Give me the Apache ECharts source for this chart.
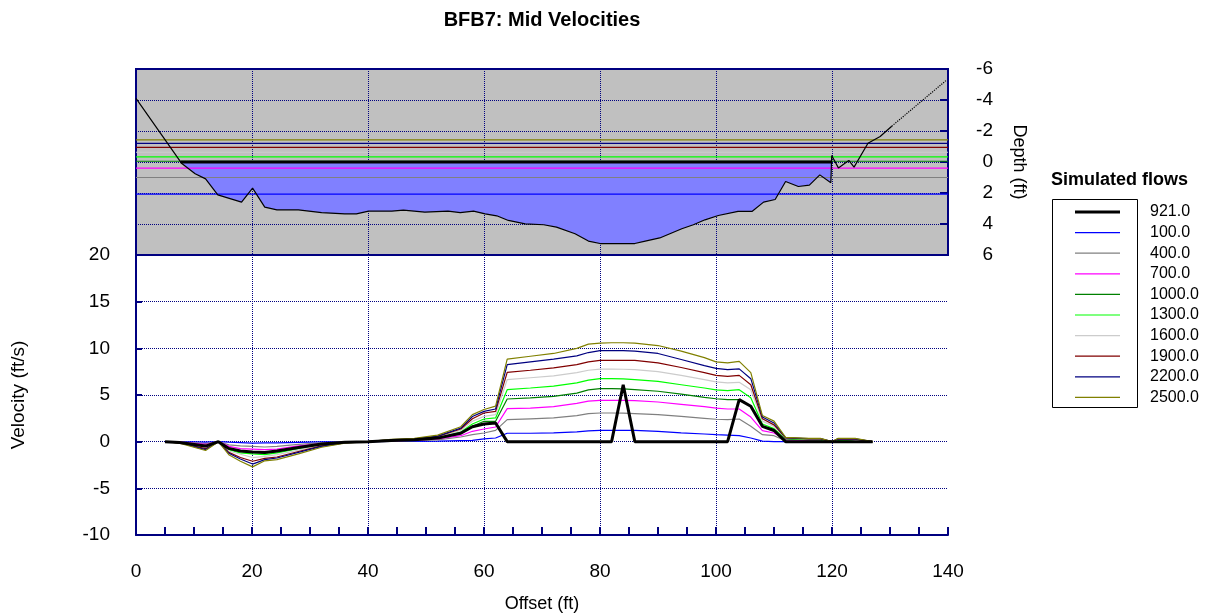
<!DOCTYPE html>
<html>
<head>
<meta charset="utf-8">
<title>BFB7: Mid Velocities</title>
<script src="https://cdn.jsdelivr.net/npm/echarts@6/dist/echarts.min.js"></script>
<style>
  html, body { margin: 0; padding: 0; background: #fff; }
  #chart { width: 1213px; height: 616px; }
</style>
</head>
<body>
<div id="chart"></div>
<script>
// offsets (ft) of the velocity verticals
var stations = [5, 7.5, 12, 14.2, 16, 18, 20.1, 22.2, 24.3, 28,
                32, 36, 40, 44, 48, 52, 56, 58, 60, 62,
                64, 68, 72, 76, 78, 80, 82, 84, 86, 90,
                94, 98, 100, 102, 104, 106, 108, 110, 112, 116,
                118, 120, 121, 124, 127];

// mid velocities (ft/s) per simulated flow
var v921  = [0, -0.1, -0.47, 0, -0.72, -1.0, -1.1, -1.15, -1.0, -0.62,
             -0.26, -0.05, 0, 0.12, 0.2, 0.38, 0.9, 1.6, 1.9, 2.0,
             0, 0, 0, 0, 0, 0, 0, 6.1, 0, 0,
             0, 0, 0, 0, 4.5, 3.8, 1.64, 1.2, 0, 0,
             0, 0, 0, 0, 0];
var v100  = [0, 0, -0.05, 0, -0.05, -0.1, -0.15, -0.14, -0.14, -0.07,
             -0.03, 0, 0, 0.02, 0.03, 0.05, 0.12, 0.14, 0.29, 0.39,
             0.9, 0.9, 0.95, 1.05, 1.15, 1.2, 1.22, 1.22, 1.21, 1.1,
             0.95, 0.82, 0.75, 0.71, 0.64, 0.39, 0.05, 0, 0, 0,
             0, 0, 0, 0, 0];
var v400  = [0, -0.03, -0.2, 0, -0.35, -0.45, -0.5, -0.57, -0.5, -0.3,
             -0.12, -0.03, 0, 0.05, 0.1, 0.2, 0.5, 0.75, 0.93, 1.21,
             2.36, 2.45, 2.55, 2.8, 3.0, 3.07, 3.07, 3.05, 3.0, 2.9,
             2.7, 2.5, 2.4, 2.36, 2.43, 1.64, 0.75, 0.64, 0.1, 0.05,
             0.05, 0, 0.05, 0, 0];
var v700  = [0, -0.05, -0.3, 0, -0.5, -0.75, -0.8, -0.86, -0.79, -0.45,
             -0.2, -0.04, 0, 0.08, 0.15, 0.3, 0.64, 1.11, 1.36, 1.57,
             3.54, 3.6, 3.75, 4.1, 4.35, 4.43, 4.43, 4.42, 4.39, 4.25,
             4.0, 3.75, 3.6, 3.5, 3.5, 2.64, 1.18, 0.93, 0.2, 0.12,
             0.1, 0, 0.1, 0, 0];
var v1000 = [0, -0.08, -0.5, 0, -0.75, -1.05, -1.1, -1.2, -1.07, -0.65,
             -0.28, -0.06, 0, 0.12, 0.2, 0.4, 0.93, 1.64, 2.18, 2.18,
             4.57, 4.7, 4.85, 5.2, 5.55, 5.68, 5.68, 5.65, 5.57, 5.4,
             5.1, 4.75, 4.6, 4.5, 4.5, 3.8, 1.64, 1.29, 0.3, 0.2,
             0.18, 0, 0.15, 0, 0];
var v1300 = [0, -0.1, -0.55, 0, -0.85, -1.2, -1.3, -1.39, -1.21, -0.75,
             -0.32, -0.08, 0, 0.15, 0.22, 0.45, 1.04, 1.89, 2.43, 2.54,
             5.57, 5.75, 5.95, 6.3, 6.6, 6.75, 6.75, 6.72, 6.65, 6.45,
             6.1, 5.75, 5.55, 5.47, 5.57, 4.7, 1.9, 1.4, 0.35, 0.25,
             0.22, 0, 0.2, 0, 0];
var v1600 = [0, -0.1, -0.65, 0, -1.0, -1.35, -1.7, -1.57, -1.39, -0.9,
             -0.4, -0.1, 0, 0.18, 0.25, 0.5, 1.21, 2.18, 2.71, 2.89,
             6.65, 6.85, 7.05, 7.4, 7.65, 7.78, 7.78, 7.76, 7.72, 7.5,
             7.1, 6.65, 6.4, 6.3, 6.36, 5.55, 2.2, 1.64, 0.38, 0.28,
             0.28, 0, 0.25, 0.25, 0];
var v1900 = [0, -0.12, -0.75, 0, -1.15, -1.7, -2.1, -1.79, -1.64, -1.05,
             -0.45, -0.1, 0, 0.2, 0.28, 0.55, 1.36, 2.45, 3.07, 3.25,
             7.43, 7.65, 7.9, 8.25, 8.55, 8.7, 8.72, 8.72, 8.7, 8.45,
             7.95, 7.4, 7.1, 7.0, 7.1, 6.1, 2.45, 1.8, 0.4, 0.3,
             0.3, 0, 0.28, 0.28, 0];
var v2200 = [0, -0.12, -0.85, 0, -1.25, -1.86, -2.4, -1.93, -1.75, -1.15,
             -0.5, -0.12, 0, 0.22, 0.3, 0.6, 1.45, 2.7, 3.25, 3.5,
             8.25, 8.55, 8.85, 9.2, 9.55, 9.75, 9.75, 9.75, 9.7, 9.45,
             8.8, 8.15, 7.85, 7.72, 7.8, 6.75, 2.65, 2.0, 0.42, 0.32,
             0.32, 0, 0.3, 0.3, 0];
var v2500 = [0, -0.15, -0.95, 0, -1.4, -2.1, -2.7, -2.05, -1.93, -1.3,
             -0.6, -0.15, 0, 0.25, 0.35, 0.7, 1.6, 2.9, 3.45, 3.8,
             8.85, 9.15, 9.45, 10.0, 10.45, 10.55, 10.6, 10.6, 10.55, 10.3,
             9.7, 9.0, 8.55, 8.45, 8.6, 7.4, 2.8, 2.2, 0.45, 0.35,
             0.35, 0, 0.35, 0.35, 0];

var flowNames = ['921.0', '100.0', '400.0', '700.0', '1000.0', '1300.0', '1600.0', '1900.0', '2200.0', '2500.0'];
var flowVel = [v921, v100, v400, v700, v1000, v1300, v1600, v1900, v2200, v2500];
// water surface for each flow, depth below datum (ft)
var wseDepth = [0, 2.07, 1.0, 0.4, -0.05, -0.33, -0.63, -0.94, -1.2, -1.43];
// wetted edges of the 921.0 flow (ft)
var wetEdges = [7.7, 119.9];

// channel ground profile (offset ft, depth ft)
var groundX = [0, 7.9, 10.2, 12.0, 14.1, 18.2, 20.1, 22.2, 24.3, 28.0,
               32.0, 36.0, 38.0, 40.1, 44.1, 46.1, 49.8, 53.8, 55.9, 58.2,
               60.2, 62.2, 64.2, 67.1, 70.3, 72.5, 75.7, 78.0, 80.0, 86.0,
               87.8, 90.3, 94.1, 96.1, 98.1, 100.4, 103.8, 106.2, 108.2, 110.2,
               112.0, 114.2, 116.1, 117.9, 119.8, 119.95, 121.1, 122.9, 123.8, 126.2,
               128.3, 130.3];
var groundZ = [-4.1, 0.1, 0.76, 1.09, 2.12, 2.59, 1.69, 2.91, 3.09, 3.09,
               3.26, 3.35, 3.35, 3.17, 3.17, 3.11, 3.24, 3.17, 3.26, 3.17,
               3.35, 3.47, 3.77, 3.99, 4.05, 4.2, 4.63, 5.1, 5.26, 5.26,
               5.1, 4.9, 4.31, 4.05, 3.73, 3.45, 3.19, 3.19, 2.59, 2.42,
               1.26, 1.58, 1.49, 0.83, 1.34, -0.42, 0.38, -0.1, 0.33, -1.21,
               -1.65, -2.31];
// extended bank, drawn dotted
var groundExtX = [130.3, 139.8];
var groundExtZ = [-2.31, -5.3];

var colors = ['#000000', '#0000ff', '#808080', '#ff00ff', '#008000', '#00ff00', '#cccccc', '#800000', '#000080', '#808000'];
var navy = '#000080';
var font = 'Liberation Sans';

var chart = echarts.init(document.getElementById('chart'));

function pairs(xs, ys) {
    return xs.map(function (x, i) { return [x, ys[i]]; });
}

var ground = pairs(groundX, groundZ);
// wetted part of the section for the water fill
var wet = [[wetEdges[0], 0]];
ground.forEach(function (p) {
    if (p[0] > wetEdges[0] && p[0] < wetEdges[1]) wet.push(p);
});
wet.push([wetEdges[1], 0]);

var series = [];
series.push({
    type: 'line', xAxisIndex: 0, yAxisIndex: 0, data: wet,
    symbol: 'none', silent: true, z: 1,
    lineStyle: { width: 0 },
    areaStyle: { color: '#8080ff', opacity: 1 }
});
// water surface lines
flowNames.forEach(function (name, i) {
    var x0 = i === 0 ? wetEdges[0] : 0;
    var x1 = i === 0 ? wetEdges[1] : 140;
    series.push({
        name: name, type: 'line', xAxisIndex: 0, yAxisIndex: 0,
        data: [[x0, wseDepth[i]], [x1, wseDepth[i]]],
        symbol: 'none', color: colors[i], z: i === 0 ? 4 : 3,
        lineStyle: { color: colors[i], width: i === 0 ? 3 : 1.2 }
    });
});
series.push({
    type: 'line', xAxisIndex: 0, yAxisIndex: 0, data: ground,
    symbol: 'none', silent: true, z: 5,
    lineStyle: { color: '#000', width: 1.2 }
});
series.push({
    type: 'line', xAxisIndex: 0, yAxisIndex: 0, data: pairs(groundExtX, groundExtZ),
    symbol: 'none', silent: true, z: 5,
    lineStyle: { color: '#000', width: 1.2, type: 'dotted' }
});
// velocity lines, 921.0 last so it sits on top
for (var k = 1; k <= flowNames.length; k++) {
    var i = k % flowNames.length;
    series.push({
        name: flowNames[i], type: 'line', xAxisIndex: 1, yAxisIndex: 1,
        data: pairs(stations, flowVel[i]),
        symbol: 'none', color: colors[i], z: i === 0 ? 4 : 3,
        lineStyle: { color: colors[i], width: i === 0 ? 3 : 1.2 }
    });
}

var dotted = { lineStyle: { type: 'dotted', color: navy, width: 1 }, showMinLine: false, showMaxLine: false };

var option = {
    animation: false,
    backgroundColor: '#fff',
    textStyle: { fontFamily: font },
    title: [
        {
            text: 'BFB7: Mid Velocities', left: 537, top: 5, textAlign: 'center',
            textStyle: { fontFamily: font, fontSize: 20, fontWeight: 'bold', color: '#000' }
        },
        {
            text: 'Simulated flows', left: 1046, top: 166,
            textStyle: { fontFamily: font, fontSize: 18, fontWeight: 'bold', color: '#000' }
        }
    ],
    grid: [
        { left: 136, right: 265, top: 69, height: 186, show: true, backgroundColor: '#c0c0c0', borderColor: navy, borderWidth: 2 },
        { left: 136, right: 265, top: 255, height: 280 }
    ],
    xAxis: [
        {
            gridIndex: 0, type: 'value', min: 0, max: 140, interval: 20,
            axisLine: { show: false, onZero: false }, axisTick: { show: false }, axisLabel: { show: false },
            splitLine: dotted
        },
        {
            gridIndex: 1, type: 'value', min: 0, max: 140, interval: 20,
            axisLine: { onZero: false, lineStyle: { color: navy, width: 2 } },
            axisTick: { inside: true, length: 8, lineStyle: { color: navy, width: 2 } },
            minorTick: { show: true, splitNumber: 4, length: 8, lineStyle: { color: navy, width: 2 } },
            axisLabel: { fontFamily: font, fontSize: 19, color: '#000', margin: 27 },
            splitLine: dotted,
            name: 'Offset (ft)', nameLocation: 'middle', nameGap: 60,
            nameTextStyle: { fontFamily: font, fontSize: 18, color: '#000' }
        }
    ],
    yAxis: [
        {
            gridIndex: 0, type: 'value', position: 'right', inverse: true, min: -6, max: 6, interval: 2,
            axisLine: { show: false, onZero: false },
            axisTick: { inside: true, length: 8, lineStyle: { color: navy, width: 2 } },
            axisLabel: { fontFamily: font, fontSize: 19, color: '#000', align: 'right', margin: 45 },
            splitLine: dotted,
            name: 'Depth (ft)', nameLocation: 'middle', nameRotate: -90, nameGap: 62,
            nameTextStyle: { fontFamily: font, fontSize: 18, color: '#000' }
        },
        {
            gridIndex: 1, type: 'value', min: -10, max: 20, interval: 5,
            axisLine: { show: true, onZero: false, lineStyle: { color: navy, width: 2 } },
            axisTick: { show: true, inside: true, length: 6, lineStyle: { color: navy, width: 2 } },
            axisLabel: { fontFamily: font, fontSize: 19, color: '#000', margin: 26 },
            splitLine: dotted,
            name: 'Velocity (ft/s)', nameLocation: 'middle', nameGap: 108,
            nameTextStyle: { fontFamily: font, fontSize: 19, color: '#000' }
        }
    ],
    legend: {
        orient: 'vertical', left: 1070, top: 199, itemWidth: 45, itemHeight: 13, itemGap: 4.6,
        data: flowNames.map(function (n, i) {
            return { name: n, icon: i === 0 ? 'path://M0,0H45V3H0Z' : 'path://M0,0H45V1.2H0Z' };
        }),
        itemStyle: { borderWidth: 0 },
        textStyle: { fontFamily: font, fontSize: 16, color: '#000', padding: [0, 0, 0, 25] }
    },
    graphic: [
        {
            type: 'rect', left: 1050, top: 197, silent: true,
            shape: { width: 85, height: 208 },
            style: { fill: 'none', stroke: '#000', lineWidth: 1 }
        }
    ],
    series: series
};

chart.setOption(option);
</script>
</body>
</html>
